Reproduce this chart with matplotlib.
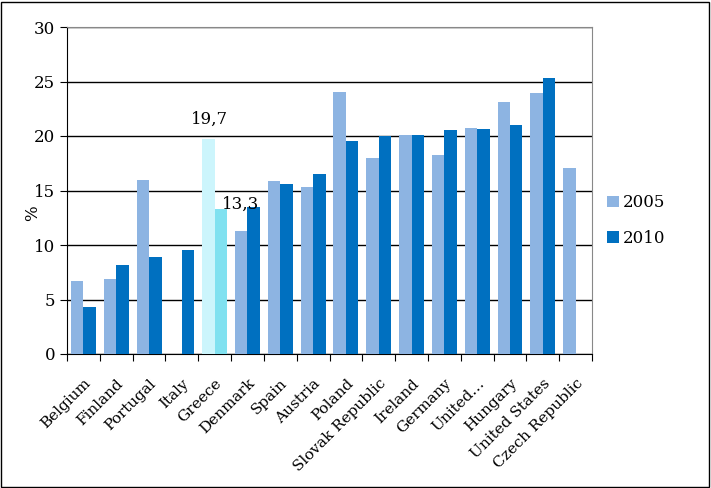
import matplotlib
matplotlib.use("Agg")
import matplotlib.pyplot as plt
import numpy as np
from matplotlib.patches import Rectangle

countries = ["Belgium", "Finland", "Portugal", "Italy", "Greece", "Denmark", "Spain",
             "Austria", "Poland", "Slovak Republic", "Ireland", "Germany", "United…",
             "Hungary", "United States", "Czech Republic"]
v2005 = [6.7, 6.9, 16.0, np.nan, 19.7, 11.3, 15.9, 15.35, 24.0, 18.0, 20.1, 18.3, 20.7, 23.1, 23.95, 17.05]
v2010 = [4.3, 8.2, 8.9, 9.5, 13.3, 13.5, 15.6, 16.5, 19.5, 20.0, 20.1, 20.55, 20.65, 21.0, 25.3, np.nan]
highlight = "Greece"
yticks = [0, 5, 10, 15, 20, 25, 30]

c2005 = "#8DB4E2"
c2010 = "#0070C0"
c2005_hl = "#CCF5FC"
c2010_hl = "#80E1F0"

plt.rcParams['font.family'] = ['DejaVu Serif']
fig = plt.figure(figsize=(7.11, 4.88), dpi=100)
ax = fig.add_axes([67/711, 1-354/488, (592-67)/711, (354-27)/488])

x = np.arange(len(countries))
w = 0.38
cols05 = [c2005_hl if c == highlight else c2005 for c in countries]
cols10 = [c2010_hl if c == highlight else c2010 for c in countries]
ax.bar(x - w/2, v2005, w, color=cols05, label="2005", zorder=3)
ax.bar(x + w/2, v2010, w, color=cols10, label="2010", zorder=3)

hi = countries.index(highlight)
ax.text(hi - 0.15, v2005[hi] + 1.8, "19,7", ha="center", va="center", fontsize=12, zorder=4)
ax.text(hi + 0.78, v2010[hi] + 0.45, "13,3", ha="center", va="center", fontsize=12, zorder=4)

ax.set_xlim(-0.5, len(countries) - 0.5)
ax.set_ylim(0, 30)
ax.set_yticks(yticks)
ax.set_yticklabels([str(t) for t in yticks], fontsize=12)
ax.yaxis.grid(True, color="black", linewidth=1, zorder=0)
ax.set_axisbelow(True)
ax.set_xticks(np.arange(len(countries) + 1) - 0.5, minor=False)
ax.set_xticklabels([])
ax.set_xticks(x, minor=True)
ax.set_xticklabels(countries, minor=True, rotation=45, ha="right", rotation_mode="anchor", fontsize=11)
ax.tick_params(axis="x", which="minor", length=0, pad=16)
ax.tick_params(axis="x", which="major", length=5, direction="out")
ax.tick_params(axis="y", length=5, direction="out")
for s in ["top", "right"]:
    ax.spines[s].set_color("#888888")
ax.spines["left"].set_color("black")
ax.spines["bottom"].set_color("black")
ax.set_ylabel("%", fontsize=12)
ax.yaxis.set_label_coords(-0.05, 0.43)

leg = ax.legend(loc="center left", bbox_to_anchor=(1.0, 0.408), frameon=False, fontsize=12,
                handlelength=0.7, handleheight=0.7, handletextpad=0.25, labelspacing=1.1)

fig.patches.append(Rectangle((1/711, 1/488), 708/711, 485/488, transform=fig.transFigure,
                             fill=False, edgecolor="black", linewidth=1))
fig.savefig("out.png", dpi=100)
